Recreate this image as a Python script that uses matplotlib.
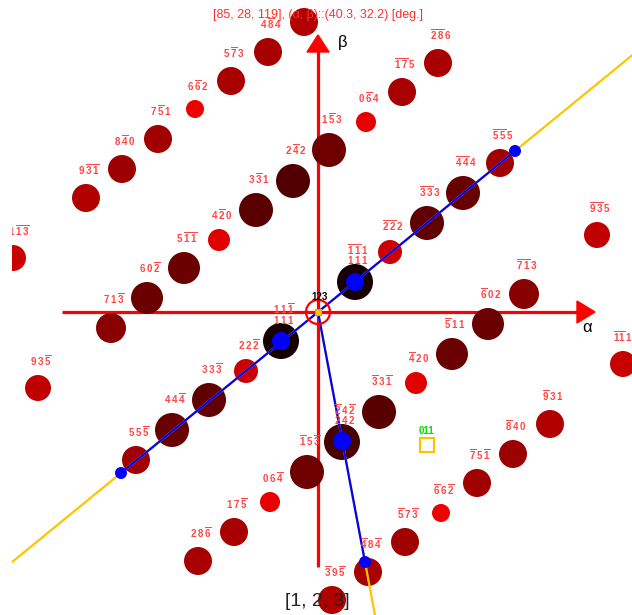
import matplotlib.pyplot as plt
from matplotlib.patches import Circle, Polygon

plt.rcParams['font.family'] = ['Liberation Sans', 'DejaVu Sans']
plt.rcParams['mathtext.fontset'] = 'custom'
plt.rcParams['mathtext.rm'] = 'Liberation Sans'
plt.rcParams['mathtext.bf'] = 'Liberation Sans:bold'
plt.rcParams['mathtext.default'] = 'bf'

# spot positions (alpha, beta), radius, shade and hkl index
alpha = [-14, -50, -87, -123, -160, -196, -232, -305,
         14, 50, 87, 123, 159, 195, 232, 305,
         120, 84, 48, 11, -25, -62, -99, -134, -171, -207, -280,
         -120, -84, -48, -11, 24, 61, 98, 134, 170, 206, 279,
         182, 145, 109, 72, 37, -37, -72, -109, -146, -182]
beta = [290, 260, 231, 203, 173, 143, 114, 54,
        -288, -260, -230, -201, -171, -142, -112, -52,
        249, 220, 190, 162, 131, 102, 72, 44, 14, -16, -76,
        -249, -220, -190, -160, -130, -100, -71, -42, -12, 18, 77,
        149, 119, 89, 60, 30, -29, -59, -88, -118, -148]
radius = [14, 14, 14, 9, 14, 14, 14, 13,
          14, 14, 14, 9, 14, 14, 14, 13,
          14, 14, 10, 17, 17, 17, 11, 16, 16, 15, 13,
          14, 14, 10, 17, 18, 17, 11, 16, 16, 15, 13,
          14, 17, 17, 12, 18, 18, 12, 17, 17, 14]
shade = ['#b00000', '#a80000', '#a80000', '#ee0000', '#a00000', '#9c0000', '#b00000', '#c80000',
         '#b00000', '#a80000', '#a00000', '#ee0000', '#a00000', '#9c0000', '#b00000', '#c80000',
         '#a80000', '#a80000', '#e80000', '#6e0000', '#500000', '#5a0000', '#e00000', '#6a0000',
         '#6a0000', '#880000', '#c00000',
         '#a80000', '#a80000', '#e80000', '#6e0000', '#480000', '#580000', '#e00000', '#6a0000',
         '#6a0000', '#880000', '#c00000',
         '#a00000', '#680000', '#600000', '#cc0000', '#160000', '#160000', '#cc0000', '#600000',
         '#680000', '#a00000']
index = ['3 -9 5', '4 -8 4', '5 -7 3', '6 -6 2', '7 -5 1', '8 -4 0', '9 -3 -1', '11 -1 -3',
         '-3 9 -5', '-4 8 -4', '-5 7 -3', '-6 6 -2', '-7 5 -1', '-8 4 0', '-9 3 1', '-11 1 3',
         '-2 -8 6', '-1 -7 5', '0 -6 4', '1 -5 3', '2 -4 2', '3 -3 1', '4 -2 0', '5 -1 -1',
         '6 0 -2', '7 1 -3', '9 3 -5',
         '2 8 -6', '1 7 -5', '0 6 -4', '-1 5 -3', '-2 4 -2', '-3 3 -1', '-4 2 0', '-5 1 1',
         '-6 0 2', '-7 -1 3', '-9 -3 5',
         '-5 -5 5', '-4 -4 4', '-3 -3 3', '-2 -2 2', '-1 -1 1', '1 1 -1', '2 2 -2', '3 3 -3',
         '4 4 -4', '5 5 -5']
# second index written under the first one for overlapping spots
index2 = {31: '2 4 2', 42: '1 1 1', 43: '1 1 1'}

# traces through the origin: end point and marked spots
trace1_end = (197, 161)
trace1_dots = [(37, 30), (-37, -29)]
trace2_end = (47, -250)
trace2_dots = [(24, -129)]

title = '[85, 28, 119], (\u03b1, \u03b2)::(40.3, 32.2) [deg.]'
zone = '[1, 2, 3]'


def hkl(s):
    parts = []
    for t in s.split():
        parts.append(r'\overline{%s}' % t[1:] if t.startswith('-') else t)
    return '$' + r'\,'.join(parts) + '$'


fig = plt.figure(figsize=(6.32, 6.15), dpi=100)
ax = fig.add_axes([12 / 632, 0, 620 / 632, 1])
ax.set_xlim(-306, 314)
ax.set_ylim(-303, 312)
ax.set_aspect('equal')
ax.axis('off')

# alpha / beta axes with arrow heads
ax.plot([-256, 260], [0, 0], color='#ff0000', lw=2.3, zorder=1, solid_capstyle='butt')
ax.plot([0, 0], [-255, 262], color='#ff0000', lw=2.3, zorder=1, solid_capstyle='butt')
ax.add_patch(Polygon([[259, 11], [277, 0], [259, -11]], color='#ff0000', zorder=1))
ax.add_patch(Polygon([[-11, 260], [0, 277], [11, 260]], color='#ff0000', zorder=1))
ax.text(269, -15, '\u03b1', fontsize=12, ha='center', va='center')
ax.text(25, 270, '\u03b2', fontsize=12, ha='center', va='center')

# spots
for i in range(len(alpha)):
    ax.add_patch(Circle((alpha[i], beta[i]), radius[i], color=shade[i], lw=0, zorder=2))
    base = beta[i] + radius[i] + 9.5
    ax.text(alpha[i] + 3, base, hkl(index[i]), fontsize=7, color='#ff4545',
            ha='center', va='baseline', zorder=6, clip_on=True)
    if i in index2:
        ax.text(alpha[i] + 3, base - 10, hkl(index2[i]), fontsize=7, color='#ff4545',
                ha='center', va='baseline', zorder=6, clip_on=True)

# yellow traces and blue segments
t1 = [-2.0, 2.0]
ax.plot([trace1_end[0] * t for t in t1], [trace1_end[1] * t for t in t1],
        color='#ffc400', lw=1.6, zorder=3)
ax.plot([0, trace2_end[0] * 2], [0, trace2_end[1] * 2], color='#ffc400', lw=1.6, zorder=3)
ax.plot([-trace1_end[0], trace1_end[0]], [-trace1_end[1], trace1_end[1]],
        color='#0000ff', lw=1.6, zorder=4)
ax.plot([0, trace2_end[0]], [0, trace2_end[1]], color='#0000ff', lw=1.6, zorder=4)
for px, py in [trace1_end, (-trace1_end[0], -trace1_end[1]), trace2_end]:
    ax.add_patch(Circle((px, py), 6, color='#0000ff', lw=0, zorder=5))
for px, py in trace1_dots + trace2_dots:
    ax.add_patch(Circle((px, py), 9, color='#0000ff', lw=0, zorder=5))

# beam centre
ax.add_patch(Circle((0, 0), 12, fill=False, ec='#ff0000', lw=1.6, zorder=5))
ax.plot([0], [0], marker='s', ms=5, mfc='#ffcc00', mec='#e8a000', mew=0.8, zorder=5)
ax.text(2, 15, '123', fontsize=7, fontweight='bold', color='black', ha='center', va='center', zorder=6)

# 011 marker
ax.plot([109], [-133], marker='s', ms=9.5, mfc='none', mec='#ffc000', mew=1.5, zorder=5)
ax.text(108, -119, '011', fontsize=7, fontweight='bold', color='#00dd00', ha='center', va='center', zorder=6)

ax.text(0, 297, title, fontsize=9, color='#ff3030', ha='center', va='center', zorder=7)
ax.text(-1, -289, zone, fontsize=14, color='#222222', ha='center', va='center', zorder=7)

fig.savefig('out.png', dpi=100)
